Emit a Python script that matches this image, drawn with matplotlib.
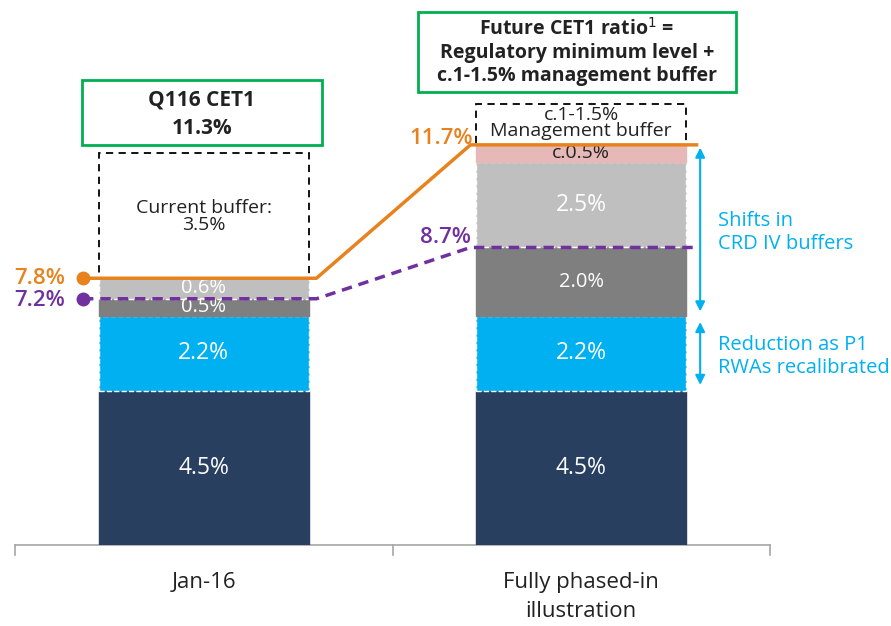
import numpy as np
import matplotlib
matplotlib.use('Agg')
import matplotlib.pyplot as plt
from matplotlib.patches import Rectangle

plt.rcParams['font.family'] = ['Open Sans', 'DejaVu Sans']

# data
categories = ['Jan-16', 'Fully phased-in\nillustration']
seg_names = ['P1', 'P2A', 'CRD IV', 'Other buffers', 'Mgmt']
seg_values = [[4.5, 2.2, 0.5, 0.6, 0.0],
              [4.5, 2.2, 2.0, 2.5, 0.5]]
seg_labels = [['4.5%', '2.2%', '0.5%', '0.6%', ''],
              ['4.5%', '2.2%', '2.0%', '2.5%', 'c.0.5%']]
seg_colors = ['#283F5F', '#00B0F0', '#7F7F7F', '#BFBFBF', '#E6B9B8']
seg_text = ['white', 'white', 'white', 'white', '#222222']
orange_vals = [7.8, 11.7]     # total CET1 requirement incl. buffers
purple_vals = [7.2, 8.7]      # minimum + CRD IV
current_buffer = 3.5
mgmt_buffer_top = 12.9

navy, cyan, orange, purple, green = '#283F5F', '#00B0F0', '#E8821E', '#7030A0', '#00B050'

fig = plt.figure(figsize=(8.91, 6.26), dpi=100)
ax = fig.add_axes([15/891, (626-545)/626, 755/891, 545/626])
ax.set_xlim(-0.5, 1.5)
ax.set_ylim(0, 545/34.2)
ax.axis('off')

x = np.arange(len(categories))
w = 0.557
for i in range(len(categories)):
    bottom = 0
    for j, v in enumerate(seg_values[i]):
        if v == 0:
            continue
        dashed = j in (1, 3)
        ax.bar(x[i], v, w, bottom=bottom, color=seg_colors[j],
               edgecolor='white' if dashed else seg_colors[j],
               linestyle='--' if dashed else '-', linewidth=1.0, zorder=2)
        if v >= 2.2:
            fs = 16.5
        elif v >= 2:
            fs = 14.5
        elif i == 0:
            fs = 14.5
        else:
            fs = 14
        ax.text(x[i], bottom + v/2, seg_labels[i][j], ha='center', va='center',
                color=seg_text[j], fontsize=fs, zorder=3)
        bottom += v

# dashed buffer boxes
ax.add_patch(Rectangle((x[0]-w/2, orange_vals[0]), w, 3.65, fill=False,
                       ls=(0, (4, 3)), lw=1.3, ec='black', zorder=1))
ax.text(x[0], 9.6, 'Current buffer:\n' + f'{current_buffer}%', ha='center', va='center',
        fontsize=14, linespacing=0.95, color='#222222')
ax.add_patch(Rectangle((x[1]-w/2, orange_vals[1]), w, mgmt_buffer_top-orange_vals[1], fill=False,
                       ls=(0, (4, 3)), lw=1.3, ec='black', zorder=1))
ax.text(x[1], 12.35, 'c.1-1.5%\nManagement buffer', ha='center', va='center',
        fontsize=14, linespacing=0.85, color='#222222')

# orange and purple lines
xs = [-0.32, x[0]+w/2+0.02, x[1]-w/2-0.015, x[1]+w/2+0.027]
ax.plot(xs, [orange_vals[0], orange_vals[0], orange_vals[1], orange_vals[1]],
        color=orange, lw=2.5, zorder=4, clip_on=False)
ax.plot(xs, [purple_vals[0], purple_vals[0], purple_vals[1], purple_vals[1]],
        color=purple, lw=2.5, ls=(0, (3, 2)), zorder=4, clip_on=False)
ax.plot([xs[0]], [orange_vals[0]], 'o', color=orange, ms=9, zorder=5, clip_on=False)
ax.plot([xs[0]], [purple_vals[0]], 'o', color=purple, ms=9, zorder=5, clip_on=False)
ax.text(-0.435, orange_vals[0], f'{orange_vals[0]}%', color=orange, fontsize=16,
        ha='center', va='center', fontweight='semibold')
ax.text(-0.435, purple_vals[0]-0.05, f'{purple_vals[0]}%', color=purple, fontsize=16,
        ha='center', va='center', fontweight='semibold')
ax.text(0.63, orange_vals[1]+0.2, f'{orange_vals[1]}%', color=orange, fontsize=16,
        ha='center', va='center', fontweight='semibold')
ax.text(0.64, purple_vals[1]+0.3, f'{purple_vals[1]}%', color=purple, fontsize=16,
        ha='center', va='center', fontweight='semibold')

# blue arrows
ax.annotate('', xy=(1.315, 11.7), xytext=(1.315, 6.75),
            arrowprops=dict(arrowstyle='<|-|>', color=cyan, lw=1.5, mutation_scale=14))
ax.annotate('', xy=(1.315, 6.6), xytext=(1.315, 4.6),
            arrowprops=dict(arrowstyle='<|-|>', color=cyan, lw=1.5, mutation_scale=14))
ax.text(1.363, 9.15, 'Shifts in\nCRD IV buffers', color=cyan, fontsize=14.5,
        ha='left', va='center', linespacing=1.2, clip_on=False)
ax.text(1.363, 5.5, 'Reduction as P1\nRWAs recalibrated', color=cyan, fontsize=14.5,
        ha='left', va='center', linespacing=1.2, clip_on=False)

# green title boxes
fig.add_artist(Rectangle((82/891, 1-145/626), 240/891, 65/626, transform=fig.transFigure,
                         fc='white', ec=green, lw=2))
fig.text(202/891, 1-100/626, 'Q116 CET1', ha='center', va='center', fontsize=15,
         fontweight='bold', color='#222222')
fig.text(202/891, 1-129/626, '11.3%', ha='center', va='center', fontsize=15,
         fontweight='bold', color='#222222')
fig.add_artist(Rectangle((418/891, 1-92/626), 318/891, 80/626, transform=fig.transFigure,
                         fc='white', ec=green, lw=2))
fig.text(577/891, 1-52/626, 'Future CET1 ratio$^{1}$ =\nRegulatory minimum level +\nc.1-1.5% management buffer',
         ha='center', va='center', fontsize=14, fontweight='bold', linespacing=1.2,
         color='#222222')

# category axis
ax.plot([-0.5, 1.5], [0, 0], color='#A6A6A6', lw=1.2, clip_on=False, zorder=1)
for t in [-0.5, 0.5, 1.5]:
    ax.plot([t, t], [0, -0.3], color='#A6A6A6', lw=1.2, clip_on=False)
for i, c in enumerate(categories):
    ax.text(x[i], -0.8, c, ha='center', va='top', fontsize=16, color='#222222',
            linespacing=1.45)

plt.savefig('out.png', dpi=100)
